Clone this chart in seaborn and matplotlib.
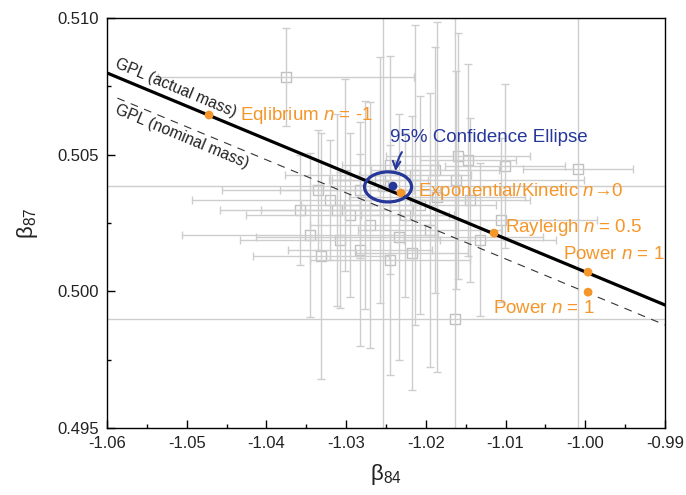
import numpy as np
import pandas as pd
import matplotlib
matplotlib.use("Agg")
import matplotlib.pyplot as plt
from matplotlib.patches import Ellipse
import seaborn as sns

# ---------------- data ----------------
# sample points (beta84, beta87) with uncertainties
pt_x = [-1.03754, -1.00090, -1.01006, -1.01470, -1.01596, -1.03114, -1.02336, -1.03315,
        -1.02173, -1.01057, -1.01634, -1.02537, -1.02826, -1.03202, -1.02951, -1.02073,
        -1.01859, -1.02700, -1.03453, -1.02575, -1.01947, -1.03014, -1.01445, -1.02135,
        -1.03353, -1.02826, -1.02449, -1.01885, -1.03578, -1.01320, -1.03077, -1.02261,
        -1.01621, -1.02763, -1.02449]
pt_y = [0.50784, 0.50448, 0.50459, 0.50481, 0.50495, 0.50298, 0.50199, 0.50129,
        0.50140, 0.50261, 0.49899, 0.50385, 0.50371, 0.50334, 0.50279, 0.50316,
        0.50345, 0.50243, 0.50206, 0.50407, 0.50225, 0.50426, 0.50334, 0.50426,
        0.50371, 0.50151, 0.50115, 0.50444, 0.50298, 0.50188, 0.50188, 0.50279,
        0.50407, 0.50316, 0.50462]
pt_xerr = [0.0160, 0.0069, 0.0075, 0.0060, 0.0090, 0.0095, 0.0180, 0.0085,
           0.0070, 0.0120, 0.0450, 0.0450, 0.0100, 0.0173, 0.0130, 0.0095,
           0.0110, 0.0075, 0.0160, 0.0060, 0.0090, 0.0075, 0.0075, 0.0070,
           0.0120, 0.0090, 0.0100, 0.0080, 0.0100, 0.0095, 0.0125, 0.0055,
           0.0160, 0.0080, 0.0060]
pt_yerr = [0.0018, 0.0120, 0.0030, 0.0035, 0.0045, 0.0035, 0.0045, 0.0045,
           0.0050, 0.0030, 0.0110, 0.0120, 0.0025, 0.0022, 0.0030, 0.0040,
           0.0064, 0.0045, 0.0030, 0.0045, 0.0050, 0.0035, 0.0030, 0.0055,
           0.0022, 0.0035, 0.0042, 0.0045, 0.0020, 0.0028, 0.0025, 0.0030,
           0.0040, 0.0038, 0.0040]

# GPL lines (end points)
gpl_actual_x = [-1.06, -0.99]
gpl_actual_y = [0.50799, 0.49950]
gpl_nominal_x = [-1.0587, -0.99]
gpl_nominal_y = [0.50707, 0.49877]

# model points
model_labels = ["Eqlibrium $n$ = -1", "Exponential/Kinetic $n$\u21920", "Rayleigh $n$ = 0.5",
                "Power $n$ = 1", "Power $n$ = 1"]
model_x = [-1.0472, -1.02311, -1.01144, -0.99965, -0.99965]
model_y = [0.50645, 0.50360, 0.50213, 0.50070, 0.49997]
label_x = [-1.04331, -1.02098, -1.01006, -1.00279, -1.01157]
label_y = [0.50645, 0.50364, 0.50232, 0.50133, 0.49939]

# mean & 95% confidence ellipse
mean_x = [-1.02412]
mean_y = [0.50385]
ell_center = (-1.02474, 0.50382)
ell_width = 0.0059
ell_height = 0.00110

x_ticks = [-1.06, -1.05, -1.04, -1.03, -1.02, -1.01, -1.00, -0.99]
x_ticklabels = ["-1.06", "-1.05", "-1.04", "-1.03", "-1.02", "-1.01", "-1.00", "-0.99"]
y_ticks = [0.495, 0.500, 0.505, 0.510]
y_ticklabels = ["0.495", "0.500", "0.505", "0.510"]

# ---------------- style ----------------
sns.set_style("white")
plt.rcParams['font.family'] = ['Liberation Sans', 'DejaVu Sans']
plt.rcParams['mathtext.fontset'] = 'custom'
plt.rcParams['mathtext.it'] = 'Liberation Sans:italic'
plt.rcParams['mathtext.rm'] = 'Liberation Sans'

ORANGE = '#f5962a'
BLUE = '#26379a'
GRAY = '#cdcdcd'

fig = plt.figure(figsize=(6.86, 4.95), dpi=100)
ax = fig.add_axes([107/686, 1-428/495, 558/686, 410/495])

df = pd.DataFrame({'x': pt_x, 'y': pt_y, 'xe': pt_xerr, 'ye': pt_yerr})
sns.scatterplot(data=df, x='x', y='y', marker='s', s=50, facecolor='white',
                edgecolor='#c0c0c0', linewidth=1.0, ax=ax, zorder=1, legend=False)
ax.errorbar(df['x'], df['y'], xerr=df['xe'], yerr=df['ye'], fmt='none',
            ecolor=GRAY, elinewidth=1.0, capsize=3, capthick=1.0, zorder=2)

sns.lineplot(x=gpl_actual_x, y=gpl_actual_y, color='black', linewidth=2.3, ax=ax, zorder=3)
sns.lineplot(x=gpl_nominal_x, y=gpl_nominal_y, color='#333333', linewidth=0.8,
             dashes=False, ax=ax, zorder=3)
ax.lines[-1].set_dashes([7, 6])

sns.scatterplot(x=model_x, y=model_y, color=ORANGE, s=40, edgecolor='none', ax=ax, zorder=5)
for lab, lx, ly in zip(model_labels, label_x, label_y):
    ax.text(lx, ly, lab, color=ORANGE, fontsize=13.5, ha='left', va='center', zorder=6)

sns.scatterplot(x=mean_x, y=mean_y, color=BLUE, s=40, edgecolor='none', ax=ax, zorder=5)
ax.add_patch(Ellipse(ell_center, ell_width, ell_height, fill=False, edgecolor=BLUE,
                     linewidth=2.3, zorder=6))
ax.annotate("95% Confidence Ellipse", xy=(-1.0238, 0.50440), xytext=(-1.02449, 0.50561),
            color=BLUE, fontsize=13.5, ha='left', va='center',
            arrowprops=dict(arrowstyle='->', color=BLUE, lw=1.5, relpos=(0.08, 0.0),
                            shrinkA=2, shrinkB=0, connectionstyle='arc3,rad=0.15'))

ax.text(-1.05134, 0.50744, "GPL (actual mass)", fontsize=11.3, color='#222222',
        rotation=-22.6, ha='center', va='center', rotation_mode='anchor')
ax.text(-1.05059, 0.50568, "GPL (nominal mass)", fontsize=11.3, color='#222222',
        rotation=-22.6, ha='center', va='center', rotation_mode='anchor')

ax.set_xlim(-1.06, -0.99)
ax.set_ylim(0.495, 0.510)
ax.set_xticks(x_ticks)
ax.set_xticklabels(x_ticklabels)
ax.set_yticks(y_ticks)
ax.set_yticklabels(y_ticklabels)
ax.set_xticks(np.arange(-1.055, -0.99, 0.01), minor=True)
ax.set_yticks([0.4975, 0.5025, 0.5075], minor=True)
ax.tick_params(axis='both', which='major', direction='in', length=6, width=1,
               labelsize=12, colors='black', labelcolor='#222222', pad=6)
ax.tick_params(axis='both', which='minor', direction='in', length=3, width=1, colors='black')
ax.tick_params(top=False, right=False, which='both')
ax.xaxis.set_tick_params(bottom=True, which='both')
ax.yaxis.set_tick_params(left=True, which='both')
for s in ax.spines.values():
    s.set_color('black')
    s.set_linewidth(1.0)

ax.set_xlabel("\u03b2$_{\\mathrm{84}}$", fontsize=16, color='#222222', labelpad=8)
ax.set_ylabel("\u03b2$_{\\mathrm{87}}$", fontsize=16, color='#222222', labelpad=12)

fig.savefig("out.png", dpi=100)
